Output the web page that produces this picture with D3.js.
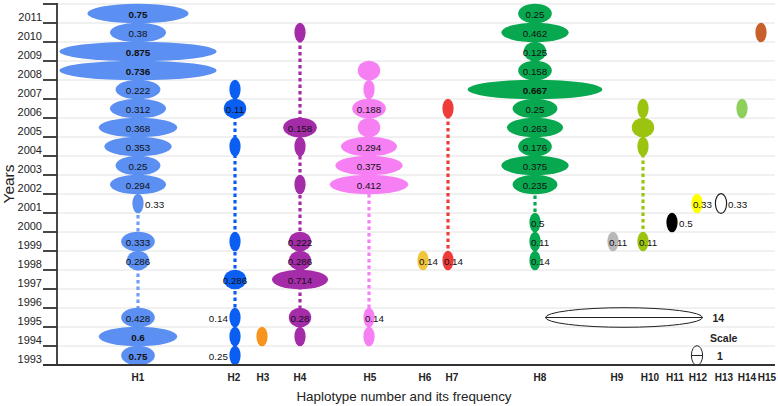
<!DOCTYPE html>
<html><head><meta charset="utf-8">
<script src="https://cdn.jsdelivr.net/npm/d3@7"></script>
<style>
html,body{margin:0;padding:0;background:#fff;}
svg{display:block;font-family:"Liberation Sans",Arial,sans-serif;}
</style></head>
<body><svg id="c" width="778" height="406"></svg>
<script>
// ---- data ----
const years = [1993,1994,1995,1996,1997,1998,1999,2000,2001,2002,2003,2004,2005,2006,2007,2008,2009,2010,2011];
const haplotypes = ["H1","H2","H3","H4","H5","H6","H7","H8","H9","H10","H11","H12","H13","H14","H15"];
// [year, number of isolates, frequency label]
const H1 = [[2011,9,"0.75"],[2010,5,"0.38"],[2009,14,"0.875"],[2008,14,"0.736"],[2007,4,"0.222"],[2006,5,"0.312"],[2005,7,"0.368"],[2004,6,"0.353"],[2003,4,"0.25"],[2002,5,"0.294"],[2001,1,"0.33"],[1999,3,"0.333"],[1998,2,"0.286"],[1995,3,"0.428"],[1994,7,"0.6"],[1993,3,"0.75"]];
const H2 = [[2007,1,""],[2006,2,"0.11"],[2004,1,""],[1999,1,""],[1997,2,"0.286"],[1995,1,"0.14"],[1994,1,""],[1993,1,"0.25"]];
const H3 = [[1994,1,""]];
const H4 = [[2010,1,""],[2005,3,"0.158"],[2004,1,""],[2002,1,""],[1999,2,"0.222"],[1998,2,"0.286"],[1997,5,"0.714"],[1995,2,"0.28"],[1994,1,""]];
const H5 = [[2008,2,""],[2007,1,""],[2006,3,"0.188"],[2005,2,""],[2004,5,"0.294"],[2003,6,"0.375"],[2002,7,"0.412"],[1995,1,"0.14"],[1994,1,""]];
const H6 = [[1998,1,"0.14"]];
const H7 = [[2006,1,""],[1998,1,"0.14"]];
const H8 = [[2011,3,"0.25"],[2010,6,"0.462"],[2009,2,"0.125"],[2008,3,"0.158"],[2007,12,"0.667"],[2006,4,"0.25"],[2005,5,"0.263"],[2004,3,"0.176"],[2003,6,"0.375"],[2002,4,"0.235"],[2000,1,"0.5"],[1999,1,"0.11"],[1998,1,"0.14"]];
const H9 = [[1999,1,"0.11"]];
const H10 = [[2006,1,""],[2005,2,""],[2004,1,""],[1999,1,"0.11"]];
const H11 = [[2000,1,"0.5"]];
const H12 = [[2001,1,"0.33"]];
const H13 = [[2001,1,"0.33"]];
const H14 = [[2006,1,""]];
const H15 = [[2010,1,""]];
const observations = [H1,H2,H3,H4,H5,H6,H7,H8,H9,H10,H11,H12,H13,H14,H15];
const scaleValues = [14, 1];

// ---- styles ----
const fillColors = ["#5b8ff1","#0a5ef2","#f7941d","#a52ca9","#f77ff4","#f0c53c","#f03b3b","#07a84f","#b8b8b8","#9ac410","#000000","#ffff00","#ffffff","#8fcf5c","#c7602a"];
const lineColors = ["#6fa0f5","#0a5ef2","#f7941d","#a52ca9","#f77ff4","#f0c53c","#f03b3b","#07a84f","#b8b8b8","#9ac410","#000000","#ffff00","#000000","#8fcf5c","#c7602a"];
const labelMode = {"H1-2001":"right","H2-1995":"left","H2-1993":"left","H5-1995":"start","H6-1998":"start","H7-1998":"start","H8-2000":"start","H8-1999":"start","H8-1998":"start","H9-1999":"start","H10-1999":"start","H11-2000":"right","H12-2001":"start","H13-2001":"right"};
const boldLabels = new Set(["H1-2011","H1-2009","H1-2008","H1-1994","H1-1993","H8-2007"]);

// ---- scales ----
const svg = d3.select("#c");
const yearsDesc = years.slice().reverse();
const y = d3.scaleBand().domain(yearsDesc).range([4, 365]);
const xMark = d3.scaleOrdinal().domain(haplotypes).range([138,235,262,300,369,423,448,535,613,643,672,697,721,742,761]);
const xLabel = d3.scaleOrdinal().domain(haplotypes).range([138,234,263,300,370,425,452,540,617,650,675,698,724,747,767]);
const w = d3.scaleLinear().domain([0,14]).range([0,157]);
const ry = y.bandwidth()/2 + 0.3;
const yc = yr => y(yr) + y.bandwidth()/2;

// gridlines
const edges = yearsDesc.map(d => y(d)).concat([y.range()[1]]);
svg.append("g").selectAll("line").data(edges.slice(0,-1)).join("line")
  .attr("x1",57).attr("x2",775).attr("y1",d=>d).attr("y2",d=>d)
  .attr("stroke","#e2e2e2").attr("stroke-width",1);

// dashed connectors
const series = haplotypes.map((h,i)=>({h, i, pts: observations[i].map(o=>({year:o[0], n:o[1], label:o[2]}))}));
svg.append("g").selectAll("line").data(series.filter(s=>s.pts.length>1)).join("line")
  .attr("x1",s=>xMark(s.h)).attr("x2",s=>xMark(s.h))
  .attr("y1",s=>yc(d3.max(s.pts,p=>p.year))).attr("y2",s=>yc(d3.min(s.pts,p=>p.year)))
  .attr("stroke",s=>lineColors[s.i]).attr("stroke-width",3.2).attr("stroke-dasharray","3.5,3");

// ellipses
const flat = series.flatMap(s=>s.pts.map(p=>Object.assign({h:s.h,i:s.i},p)));
svg.append("g").selectAll("ellipse").data(flat).join("ellipse")
  .attr("cx",d=>xMark(d.h)).attr("cy",d=>yc(d.year))
  .attr("rx",d=>w(d.n)/2).attr("ry",ry)
  .attr("fill",d=>fillColors[d.i])
  .attr("stroke",d=>d.h==="H13"?"#222":"none").attr("stroke-width",1.2);

// frequency labels
svg.append("g").selectAll("text").data(flat.filter(d=>d.label)).join("text")
  .attr("x",d=>{
    const m = labelMode[d.h+"-"+d.year]; const cx = xMark(d.h), rx = w(d.n)/2;
    if(m==="right") return cx+rx+1.5;
    if(m==="left") return cx-rx-1.5;
    if(m==="start") return cx-rx+1.5;
    return cx;
  })
  .attr("y",d=>yc(d.year)+0.5)
  .attr("text-anchor",d=>{
    const m = labelMode[d.h+"-"+d.year];
    return m==="right"||m==="start" ? "start" : m==="left" ? "end" : "middle";
  })
  .attr("dominant-baseline","central")
  .attr("font-size",9.8)
  .attr("font-weight",d=>boldLabels.has(d.h+"-"+d.year)?"bold":"normal")
  .attr("fill","#111")
  .text(d=>d.label);

// scale legend
const legend = svg.append("g");
const legendRows = [1995, 1993];
const legendCx = [624, 697];
scaleValues.forEach((v,k)=>{
  const cy = yc(legendRows[k]), rx = w(v)/2;
  legend.append("ellipse").attr("cx",legendCx[k]).attr("cy",cy).attr("rx",rx).attr("ry",ry)
    .attr("fill","none").attr("stroke","#222").attr("stroke-width",1);
  legend.append("line").attr("x1",legendCx[k]-rx).attr("x2",legendCx[k]+rx).attr("y1",cy).attr("y2",cy)
    .attr("stroke","#222").attr("stroke-width",1);
  legend.append("text").attr("x", k===0 ? legendCx[k]+rx+10 : 717).attr("y",cy+0.5)
    .attr("dominant-baseline","central").attr("font-size",10.5).attr("font-weight","bold").attr("fill","#222")
    .text(v);
});
legend.append("text").attr("x",710).attr("y",yc(1994)+1).attr("dominant-baseline","central")
  .attr("font-size",10.5).attr("font-weight","bold").attr("fill","#222").text("Scale");

// y axis
const ax = svg.append("g");
ax.selectAll("line.tick").data(edges).join("line").attr("class","tick")
  .attr("x1",43).attr("x2",57).attr("y1",d=>d).attr("y2",d=>d)
  .attr("stroke","#333").attr("stroke-width",1.8);
ax.append("line").attr("x1",57).attr("x2",57).attr("y1",3).attr("y2",365)
  .attr("stroke","#333").attr("stroke-width",1.8);
ax.selectAll("text").data(years).join("text")
  .attr("x",42).attr("y",d=>yc(d)+3.5).attr("text-anchor","end").attr("dominant-baseline","central")
  .attr("font-size",11).attr("fill","#222").text(d=>d);

// x axis
svg.append("line").attr("x1",43).attr("x2",775).attr("y1",365).attr("y2",365)
  .attr("stroke","#333").attr("stroke-width",1.8);
svg.append("g").selectAll("text").data(haplotypes).join("text")
  .attr("x",d=>xLabel(d)).attr("y",377).attr("text-anchor","middle").attr("dominant-baseline","central")
  .attr("font-size",10).attr("font-weight","bold").attr("fill","#222").text(d=>d);

// titles
svg.append("text").attr("x",404).attr("y",396).attr("text-anchor","middle").attr("dominant-baseline","central")
  .attr("font-size",13.4).attr("fill","#222").text("Haplotype number and its frequency");
svg.append("text").attr("transform","translate(8,184) rotate(-90)").attr("text-anchor","middle")
  .attr("dominant-baseline","central").attr("font-size",15.5).attr("fill","#222").text("Years");
</script></body></html>
